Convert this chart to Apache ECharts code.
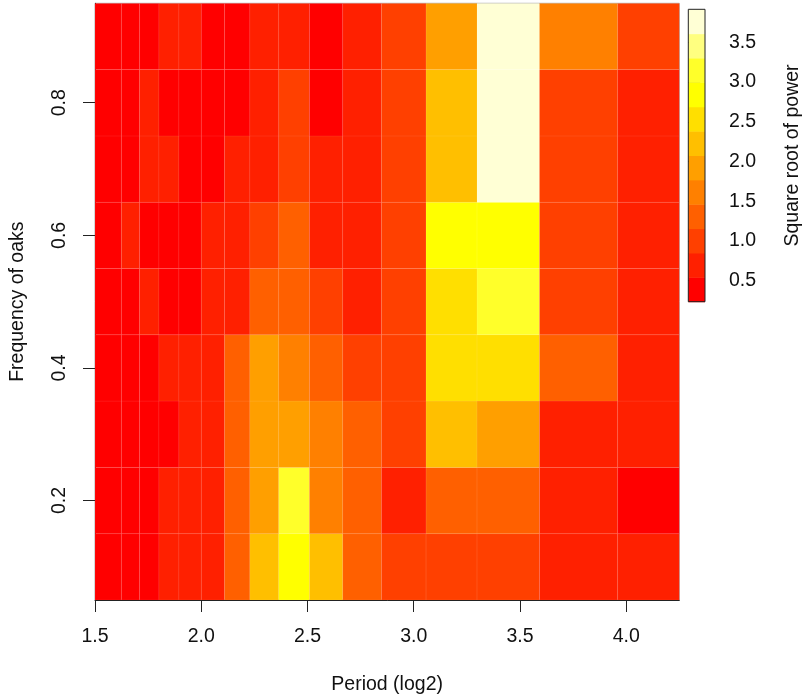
<!DOCTYPE html>
<html>
<head>
<meta charset="utf-8">
<script src="https://cdn.jsdelivr.net/npm/echarts@6/dist/echarts.min.js"></script>
<style>html,body{margin:0;padding:0;background:#fff}#chart{width:810px;height:700px}</style>
</head>
<body>
<div id="chart"></div>
<script>
// ---- data ----
// cell edges along the period axis (log2)
const periodEdges = [1.5, 1.624, 1.71, 1.801, 1.895, 2.0, 2.11, 2.229, 2.365, 2.509, 2.666, 2.848, 3.058, 3.298, 3.592, 3.96, 4.25];
// row centres (frequency of oaks)
const frequencies = [0.1, 0.2, 0.3, 0.4, 0.5, 0.6, 0.7, 0.8, 0.9];
// square root of power, one array per frequency row
const powerF01 = [0.39,0.39,0.39,0.70,0.70,0.70,1.31,2.23,2.84,2.23,1.31,1.00,1.00,1.00,0.70,0.70];
const powerF02 = [0.39,0.39,0.39,0.70,0.70,0.70,1.31,1.92,3.15,1.62,1.31,0.70,1.31,1.31,0.70,0.39];
const powerF03 = [0.39,0.39,0.39,0.39,0.70,0.70,1.31,1.92,1.92,1.62,1.31,1.00,2.23,1.92,0.70,0.70];
const powerF04 = [0.39,0.39,0.39,0.70,0.70,0.70,1.31,1.92,1.62,1.31,1.00,1.00,2.54,2.54,1.31,0.70];
const powerF05 = [0.39,0.39,0.70,0.39,0.39,0.70,0.70,1.31,1.31,1.00,0.70,1.00,2.54,3.15,1.00,0.70];
const powerF06 = [0.39,0.70,0.39,0.39,0.39,0.70,0.70,1.00,1.31,0.70,0.70,1.00,2.84,2.84,1.00,0.70];
const powerF07 = [0.39,0.39,0.70,0.70,0.39,0.39,0.70,0.70,1.00,0.70,0.70,1.00,2.23,3.76,1.00,0.70];
const powerF08 = [0.39,0.39,0.70,0.39,0.39,0.39,0.39,0.70,1.00,0.39,0.70,1.00,2.23,3.76,1.00,0.70];
const powerF09 = [0.39,0.39,0.39,0.70,0.70,0.39,0.39,0.70,0.70,0.39,0.70,1.00,1.92,3.76,1.62,1.00];
const powerRows = [powerF01, powerF02, powerF03, powerF04, powerF05, powerF06, powerF07, powerF08, powerF09];
// colour key range and tick labels
const zMin = 0.236, zMax = 3.915;
const periodTicks = [1.5, 2.0, 2.5, 3.0, 3.5, 4.0];
const freqTicks = [0.2, 0.4, 0.6, 0.8];
const powerTicks = [0.5, 1.0, 1.5, 2.0, 2.5, 3.0, 3.5];

// ---- styles ----
const palette = ['#FF0000','#FF2000','#FF4000','#FF6000','#FF8000','#FF9F00','#FFBF00','#FFDF00','#FFFF00','#FFFF2A','#FFFF80','#FFFFD5'];
const FONT = 'Liberation Sans, Arial, Helvetica, sans-serif';
const FS = 19.5;
const TXT = '#111';

// ---- build ----
const nLev = palette.length;
const breaks = palette.map((_, i) => zMin + (zMax - zMin) * i / nLev).concat([zMax]);
const pieces = palette.map((c, i) => ({ gte: breaks[i], lt: i === nLev - 1 ? zMax + 1 : breaks[i + 1], color: c }));
const cells = [];
powerRows.forEach((row, r) => row.forEach((v, c) => cells.push([c, r, v])));
const keyBands = palette.map((_, i) => [breaks[i], breaks[i + 1], (breaks[i] + breaks[i + 1]) / 2]);
const halfStep = (frequencies[1] - frequencies[0]) / 2;

const chart = echarts.init(document.getElementById('chart'), null, { renderer: 'canvas' });
chart.setOption({
  animation: false,
  backgroundColor: '#fff',
  textStyle: { fontFamily: FONT },
  grid: [
    { left: 94.3, top: 3.3, width: 585, height: 598.4, show: true, borderColor: '#aaa', borderWidth: 1, backgroundColor: 'transparent' },
    { left: 688.3, top: 9.3, width: 16.7, height: 292.4 }
  ],
  xAxis: [
    {
      gridIndex: 0, type: 'value', min: 1.5, max: 4.25,
      name: 'Period (log2)', nameLocation: 'middle', nameGap: 75,
      nameTextStyle: { fontSize: FS, color: TXT, fontFamily: FONT },
      axisLine: { show: true, onZero: false, lineStyle: { color: '#222', width: 1 } },
      axisTick: { show: true, length: 12, customValues: periodTicks, lineStyle: { color: '#222' } },
      axisLabel: { customValues: periodTicks, formatter: v => Number(v).toFixed(1), fontSize: FS, color: TXT, margin: 27, fontFamily: FONT },
      splitLine: { show: false }
    },
    { gridIndex: 1, type: 'value', min: 0, max: 1, show: false }
  ],
  yAxis: [
    {
      gridIndex: 0, type: 'value', min: 0.05, max: 0.95,
      name: 'Frequency of oaks', nameLocation: 'middle', nameGap: 67, nameRotate: 90,
      nameTextStyle: { fontSize: FS, color: TXT, fontFamily: FONT },
      axisLine: { show: true, onZero: false, lineStyle: { color: '#222', width: 1 } },
      axisTick: { show: true, length: 12, customValues: freqTicks, lineStyle: { color: '#222' } },
      axisLabel: { customValues: freqTicks, rotate: 90, formatter: v => Number(v).toFixed(1), fontSize: FS, color: TXT, margin: 25, fontFamily: FONT },
      splitLine: { show: false }
    },
    {
      gridIndex: 1, type: 'value', position: 'right', min: zMin, max: zMax,
      name: 'Square root of power', nameLocation: 'middle', nameGap: 78, nameRotate: 90,
      nameTextStyle: { fontSize: FS, color: TXT, fontFamily: FONT },
      axisLine: { show: false },
      axisTick: { show: true, length: 12, customValues: powerTicks, lineStyle: { color: '#222' } },
      axisLabel: { customValues: powerTicks, formatter: v => Number(v).toFixed(1), fontSize: FS, color: TXT, margin: 24, fontFamily: FONT },
      splitLine: { show: false }
    }
  ],
  visualMap: {
    type: 'piecewise', show: false, dimension: 2, seriesIndex: [0, 1], pieces: pieces
  },
  series: [
    {
      type: 'custom', xAxisIndex: 0, yAxisIndex: 0, clip: true, data: cells,
      renderItem: function (params, api) {
        const c = api.value(0), r = api.value(1);
        const f = frequencies[r];
        const p0 = api.coord([periodEdges[c], f + halfStep]);
        const p1 = api.coord([periodEdges[c + 1], f - halfStep]);
        return {
          type: 'rect',
          shape: { x: p0[0], y: p0[1], width: p1[0] - p0[0], height: p1[1] - p0[1] },
          style: { fill: api.visual('color'), stroke: 'rgba(255,255,255,0.10)', lineWidth: 0.6 }
        };
      }
    },
    {
      type: 'custom', xAxisIndex: 1, yAxisIndex: 1, clip: false, data: keyBands,
      renderItem: function (params, api) {
        const p0 = api.coord([0, api.value(1)]);
        const p1 = api.coord([1, api.value(0)]);
        return {
          type: 'rect',
          shape: { x: p0[0], y: p0[1], width: p1[0] - p0[0], height: p1[1] - p0[1] + 0.5 },
          style: { fill: api.visual('color') }
        };
      }
    },
    {
      type: 'custom', xAxisIndex: 1, yAxisIndex: 1, clip: false, data: [[zMin, zMax]], z: 5,
      renderItem: function (params, api) {
        const p0 = api.coord([0, api.value(1)]);
        const p1 = api.coord([1, api.value(0)]);
        return {
          type: 'rect',
          shape: { x: p0[0], y: p0[1], width: p1[0] - p0[0], height: p1[1] - p0[1] },
          style: { fill: 'none', stroke: '#222', lineWidth: 1 }
        };
      }
    }
  ]
});
</script>
</body>
</html>
